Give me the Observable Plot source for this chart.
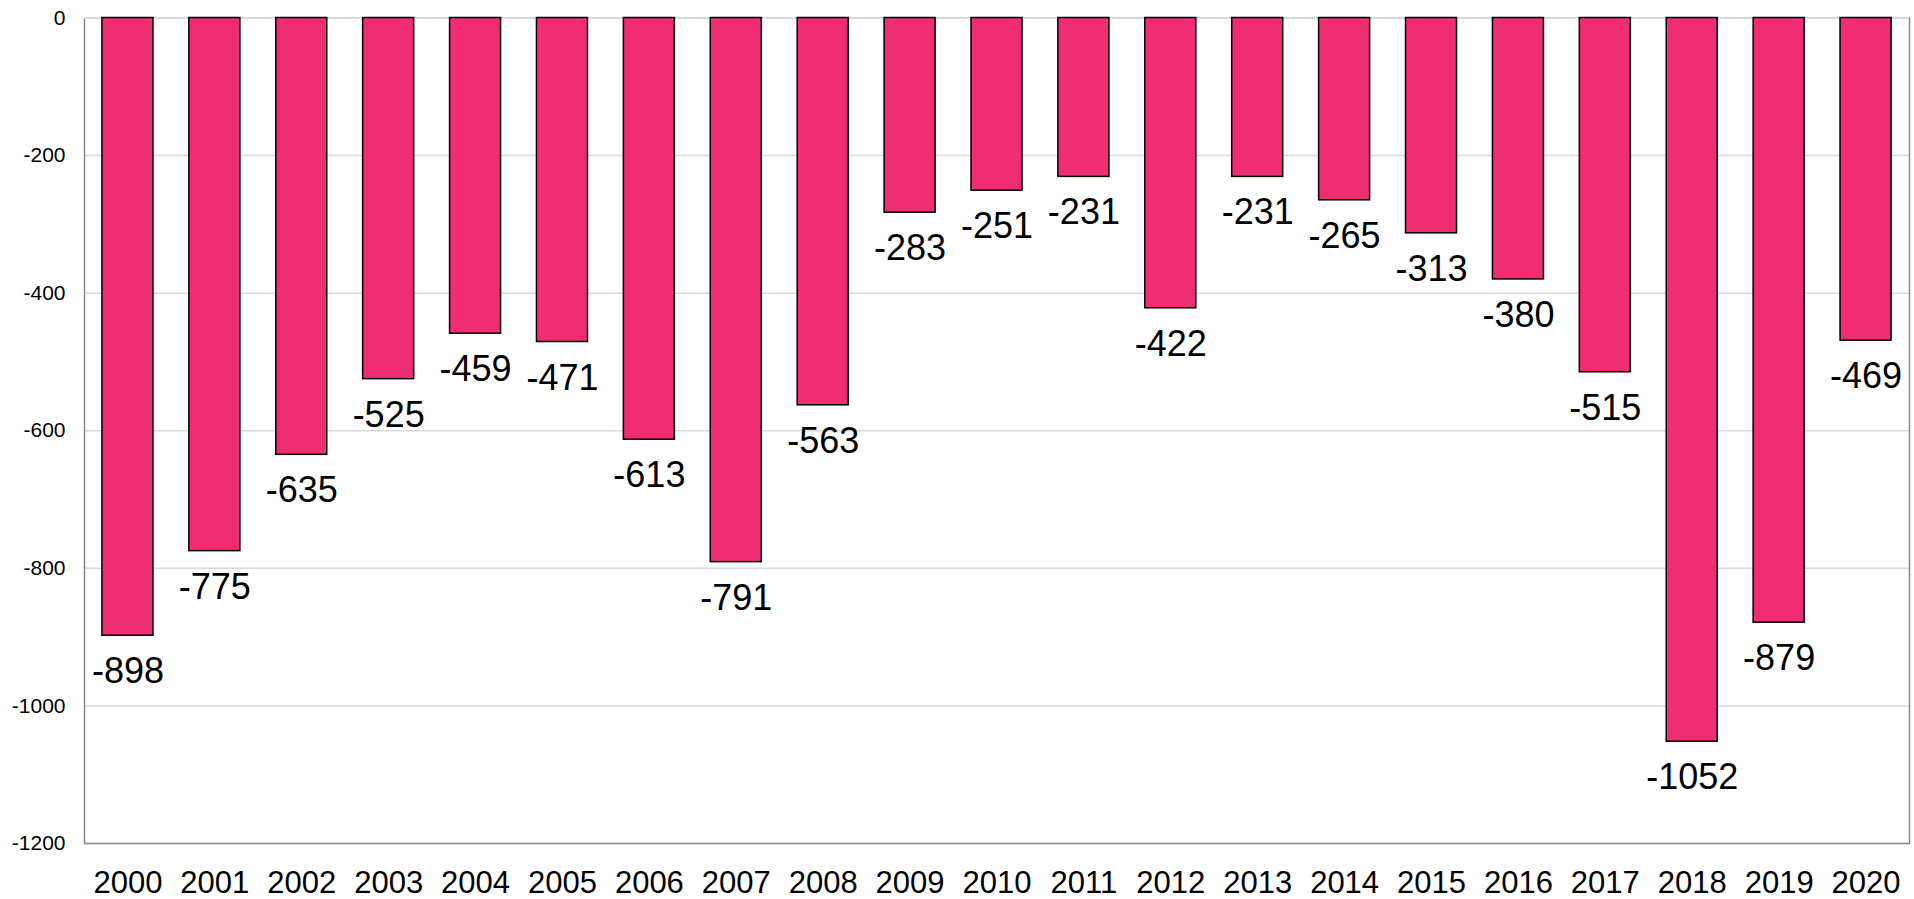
<!DOCTYPE html>
<html>
<head>
<meta charset="utf-8">
<script src="https://cdn.jsdelivr.net/npm/d3@7"></script>
<script src="https://cdn.jsdelivr.net/npm/@observablehq/plot@0.6"></script>
<style>
  html, body { margin: 0; padding: 0; background: white; }
</style>
</head>
<body>
<div id="chart"></div>
<script>
const years = ["2000","2001","2002","2003","2004","2005","2006","2007","2008","2009","2010","2011","2012","2013","2014","2015","2016","2017","2018","2019","2020"];
const values = [-898,-775,-635,-525,-459,-471,-613,-791,-563,-283,-251,-231,-422,-231,-265,-313,-380,-515,-1052,-879,-469];
const yTicks = [0,-200,-400,-600,-800,-1000,-1200];

const data = years.map((year, i) => ({year, value: values[i]}));

const chart = Plot.plot({
  width: 1914,
  height: 899,
  marginLeft: 84,
  marginRight: 5,
  marginTop: 17.5,
  marginBottom: 56,
  style: {fontFamily: "'Liberation Sans', Arial, sans-serif", color: "black", background: "white"},
  x: {domain: years, paddingInner: 0.413, paddingOuter: 0.2065, round: false, label: null},
  y: {domain: [-1200, 0], label: null},
  marks: [
    Plot.ruleY(yTicks, {stroke: "#d9d9d9", strokeWidth: 1.5}),
    Plot.frame({stroke: "#898989", strokeWidth: 1.5}),
    Plot.ruleY([0], {stroke: "#d9d9d9", strokeWidth: 2}),
    Plot.barY(data, {x: "year", y: "value", fill: "#ee2d72", stroke: "black", strokeWidth: 1.5}),
    Plot.text(data, {x: "year", y: "value", text: d => String(d.value), lineAnchor: "top", dy: 22, fontSize: 36, fill: "black"}),
    Plot.axisY({ticks: yTicks, tickSize: 0, tickPadding: 19, fontSize: 21, tickFormat: d => String(d), label: null}),
    Plot.axisX({tickSize: 0, tickPadding: 27, fontSize: 31, label: null})
  ]
});
document.getElementById("chart").appendChild(chart);
</script>
</body>
</html>
